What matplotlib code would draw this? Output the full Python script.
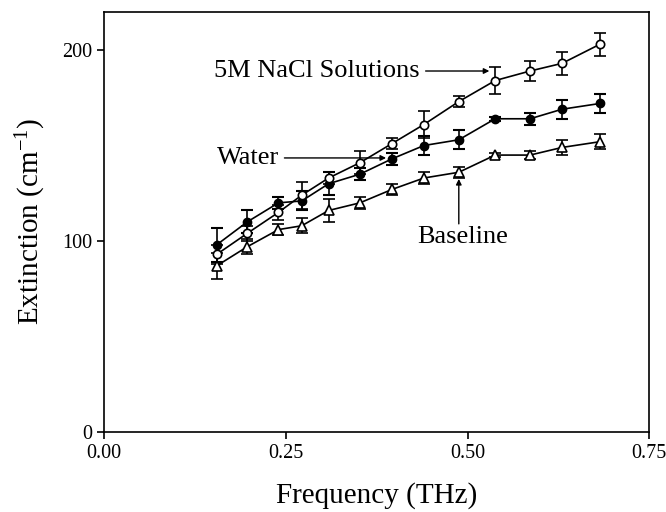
import matplotlib
matplotlib.use("Agg")
import matplotlib.pyplot as plt

plt.rcParams['font.family'] = ['Liberation Serif', 'DejaVu Serif']
plt.rcParams['mathtext.fontset'] = 'custom'
plt.rcParams['mathtext.rm'] = 'Liberation Serif'
plt.rcParams['mathtext.it'] = 'Liberation Serif:italic'

freq = [0.155, 0.197, 0.240, 0.272, 0.309, 0.352, 0.396, 0.440, 0.488, 0.538, 0.586, 0.630, 0.682]
nacl = [93, 104, 115, 124, 133, 141, 151, 161, 173, 184, 189, 193, 203]
nacl_err = [5, 4, 4, 7, 3, 6, 3, 7, 3, 7, 5, 6, 6]
water = [98, 110, 120, 121, 130, 135, 143, 150, 153, 164, 164, 169, 172]
water_err = [9, 6, 3, 5, 6, 3, 3, 5, 5, 1, 3, 5, 5]
base = [87, 97, 106, 108, 116, 120, 127, 133, 136, 145, 145, 149, 152]
base_err = [7, 4, 3, 4, 6, 3, 3, 3, 3, 1, 2, 4, 4]

xticks = [0.00, 0.25, 0.50, 0.75]
xticklabels = ["0.00", "0.25", "0.50", "0.75"]
yticks = [0, 100, 200]

fig = plt.figure(figsize=(6.66, 5.12), dpi=100)
ax = fig.add_axes([0.156, 0.156, 0.819, 0.821])

common = dict(color='black', lw=1.2, capsize=4, capthick=1.5, elinewidth=1.2)
ax.errorbar(freq, base, yerr=base_err, marker='^', ms=7, mfc='white', mec='black', mew=1.2, **common)
ax.errorbar(freq, water, yerr=water_err, marker='o', ms=6, mfc='black', mec='black', **common)
ax.errorbar(freq, nacl, yerr=nacl_err, marker='o', ms=6, mfc='white', mec='black', mew=1.2, **common)

ax.set_xlim(0, 0.75)
ax.set_ylim(0, 220)
ax.set_xticks(xticks)
ax.set_xticklabels(xticklabels)
ax.set_yticks(yticks)
ax.tick_params(direction='out', length=5, width=1.2, labelsize=14.5, top=False, right=False)
for s in ax.spines.values():
    s.set_linewidth(1.2)

ax.set_xlabel("Frequency (THz)", fontsize=21, labelpad=14)
ax.set_ylabel("Extinction (cm$^{-1}$)", fontsize=21, labelpad=10)

arrow = dict(arrowstyle='-|>', color='black', lw=1, mutation_scale=8, shrinkA=2, shrinkB=0)
ax.annotate("5M NaCl Solutions", xy=(0.530, 189), xytext=(0.152, 189), fontsize=19,
            va='center', ha='left', arrowprops=arrow)
ax.annotate("Water", xy=(0.388, 143.5), xytext=(0.155, 143.5), fontsize=19,
            va='center', ha='left', arrowprops=arrow)
ax.annotate("", xy=(0.488, 132.5), xytext=(0.488, 109), arrowprops=dict(arrow, shrinkA=0))
ax.text(0.493, 102, "Baseline", fontsize=19, va='center', ha='center')

fig.savefig("out.png", dpi=100)
